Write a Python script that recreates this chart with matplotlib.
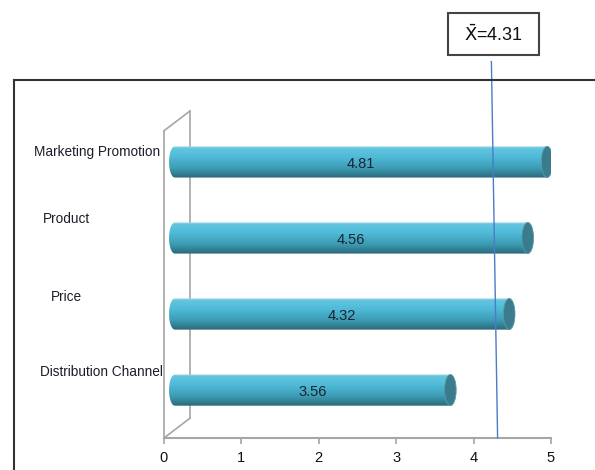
import numpy as np
import matplotlib
matplotlib.use("Agg")
import matplotlib.pyplot as plt
import matplotlib.patches as patches
import matplotlib.transforms as mtransforms
from matplotlib.path import Path
from matplotlib.colors import LinearSegmentedColormap
from matplotlib.lines import Line2D

# data
categories = ["Distribution Channel", "Price", "Product", "Marketing Promotion"]
values = [3.56, 4.32, 4.56, 4.81]
mean_value = 4.31
x_ticks = [0, 1, 2, 3, 4, 5]

# label placement (left edge in figure px, vertical offset from bar)
label_x = [40, 51, 43, 34]
label_dy = [0.24, 0.22, 0.25, 0.13]

plt.rcParams["font.family"] = ["Liberation Sans", "DejaVu Sans"]

fig = plt.figure(figsize=(5.95, 4.7), dpi=100)
W, H = 595, 470
ax = fig.add_axes([164 / W, (H - 438) / H, (551 - 164) / W, (438 - 111) / H])
ax.set_xlim(0, 5)
ax.set_ylim(-0.63, 3.67)

# cylinder gradient
cmap = LinearSegmentedColormap.from_list(
    "cyl",
    [(0.0, "#a9d9e6"), (0.07, "#62c5e0"), (0.35, "#4fbad7"),
     (0.7, "#3c9bb3"), (1.0, "#2a6878")],
)
grad = np.linspace(0, 1, 200).reshape(-1, 1)

dx = 0.14      # depth shift of bars
rx = 0.075     # cap half width (x units)
h = 0.41       # bar thickness

label_tf = mtransforms.blended_transform_factory(fig.transFigure, ax.transData)

for i, (cat, val) in enumerate(zip(categories, values)):
    y = i
    x0, x1 = dx, val + dx
    t = np.linspace(np.pi / 2, 3 * np.pi / 2, 40)
    verts = [(x0 + rx * np.cos(a), y + h / 2 * np.sin(a)) for a in t]
    verts += [(x1, y - h / 2), (x1, y + h / 2), verts[0]]
    codes = [Path.MOVETO] + [Path.LINETO] * (len(verts) - 2) + [Path.CLOSEPOLY]
    clip = patches.PathPatch(Path(verts, codes), facecolor="none",
                             edgecolor="none", transform=ax.transData)
    ax.add_patch(clip)
    im = ax.imshow(grad, cmap=cmap, aspect="auto", origin="upper",
                   extent=[x0 - rx, x1, y - h / 2, y + h / 2], zorder=2)
    im.set_clip_path(clip)
    ax.add_patch(patches.Ellipse((x1, y), 2 * rx, h, facecolor="#3b7c8c",
                                 edgecolor="#5a9aaa", linewidth=0.6, zorder=3))
    ax.text((x0 + x1) / 2, y - 0.03, f"{val:.2f}", ha="center", va="center",
            fontsize=10.5, color="#1a2430", zorder=4)
    ax.text(label_x[i] / W, y + label_dy[i], cat, transform=label_tf,
            ha="left", va="center", fontsize=9.8, color="#1e1e2a",
            clip_on=False)

# 3D wall / floor
wall = "#a6a6a6"
ddx, ddy = 0.335, 0.26
y_lo, y_hi = -0.63, 3.41
for xs, ys in [([0, 0], [y_lo, y_hi]),
               ([ddx, ddx], [y_lo + ddy, y_hi + ddy]),
               ([0, ddx], [y_hi, y_hi + ddy]),
               ([0, ddx], [y_lo, y_lo + ddy])]:
    ax.plot(xs, ys, color=wall, linewidth=1.2, clip_on=False, zorder=1)

# mean line (slightly slanted)
ax.plot([mean_value, mean_value - 0.08], [-0.63, 4.32], color="#4a7cc8",
        linewidth=1.0, clip_on=False, zorder=5)

# axes styling
for s in ["top", "right", "left"]:
    ax.spines[s].set_visible(False)
ax.spines["bottom"].set_color("#a6a6a6")
ax.spines["bottom"].set_linewidth(1.5)
ax.set_xticks(x_ticks)
ax.set_xticklabels([str(v) for v in x_ticks])
ax.tick_params(axis="x", direction="out", length=4, width=1.2, color="#a6a6a6",
               labelsize=10.5, labelcolor="#111111", pad=5)
ax.set_yticks([])
ax.patch.set_alpha(0)

# outer frame
fig.add_artist(Line2D([14 / W, 14 / W], [0, (H - 80) / H], color="#333333",
                      linewidth=1.5))
fig.add_artist(Line2D([14 / W, 1], [(H - 80) / H, (H - 80) / H], color="#333333",
                      linewidth=1.5))

# mean box
fig.add_artist(patches.Rectangle((448 / W, (H - 55) / H), 91 / W, 42 / H,
                                 transform=fig.transFigure, facecolor="white",
                                 edgecolor="#444444", linewidth=1.5))
fig.text(493 / W, (H - 35) / H, r"$\bar{\mathrm{X}}$" + f"={mean_value}",
         ha="center", va="center", fontsize=13, color="#111111")

fig.savefig("out.png", dpi=100)
